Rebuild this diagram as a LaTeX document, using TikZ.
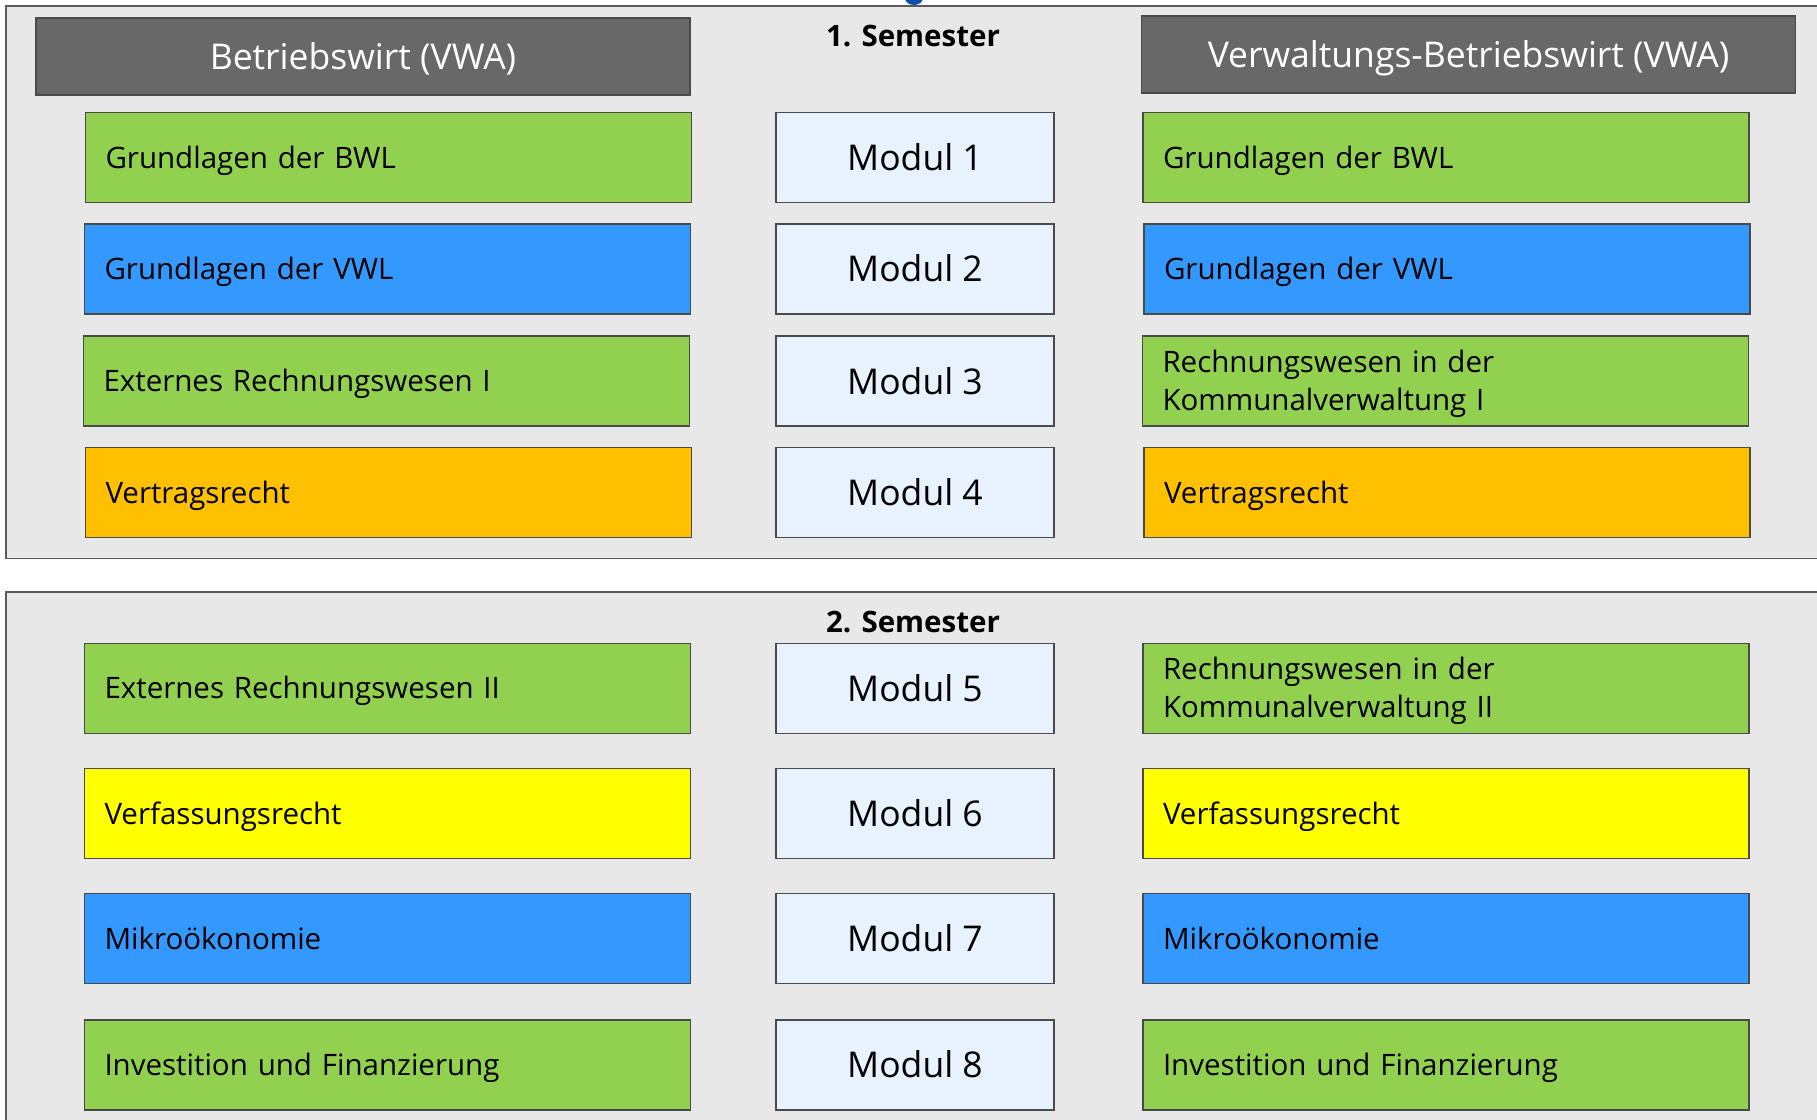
\documentclass[tikz,border=0pt]{standalone}
\usepackage{fontspec}
\setmainfont{Open Sans}
\definecolor{panelbg}{HTML}{E8E8E8}
\definecolor{panelline}{HTML}{5A5A5A}
\definecolor{boxline}{HTML}{4A4A4A}
\definecolor{hdrfill}{HTML}{686868}
\definecolor{cgreen}{HTML}{92D050}
\definecolor{cblue}{HTML}{3399FF}
\definecolor{corange}{HTML}{FFC000}
\definecolor{cyellow}{HTML}{FFFF00}
\definecolor{modfill}{HTML}{E7F2FE}
\definecolor{topblue}{HTML}{0B4FA8}
\tikzset{
  panel/.style={draw=panelline, line width=1.8pt, fill=panelbg},
  hdr/.style={draw=boxline, line width=1.8pt, fill=hdrfill, text=white, minimum width=654pt, minimum height=77pt, font=\fontsize{35.5}{42}\selectfont, text height=28.4pt, text depth=2.8pt},
  subj/.style={draw=boxline, line width=1.6pt, minimum height=90pt, text width=566pt, inner xsep=20pt, align=left, font=\fontsize{29.5}{38}\selectfont, text height=23.6pt, text depth=2.4pt},
  subjtwo/.style={subj, text depth=40.4pt},
  modbox/.style={draw=boxline, line width=1.6pt, fill=modfill, minimum width=278pt, minimum height=90pt, font=\fontsize{35.5}{42}\selectfont, text height=28.4pt, text depth=2.8pt},
  semlabel/.style={font=\fontsize{29.5}{34}\selectfont\bfseries, inner sep=0pt}
}
\begin{document}
\begin{tikzpicture}[x=1pt,y=-1pt]
\useasboundingbox (0,0) rectangle (1817,1119);
\clip (0,0) rectangle (1817,1119);
% panels
\draw[panel] (6,6) rectangle (1830,558.5);
\draw[panel] (6,592) rectangle (1830,1135);
\fill[topblue] (914,-2) ellipse (9pt and 7pt);
% headers and semester labels
\node[hdr] (hl) at (363,56.7) {Betriebswirt (VWA)};
\node[hdr] (hr) at (1468.5,54.5) {Verwaltungs-Betriebswirt (VWA)};
\node[semlabel] (s1) at (913,36) {1. Semester};
\node[semlabel] (s2) at (913,622) {2. Semester};
% semester 1
\node[subj, fill=cgreen] (l1) at (388.5,157.6) {Grundlagen der BWL};
\node[subj, fill=cblue] (l2) at (387.5,268.8) {Grundlagen der VWL};
\node[subj, fill=cgreen] (l3) at (386.5,381.2) {Externes Rechnungswesen I};
\node[subj, fill=corange] (l4) at (388.5,492.5) {Vertragsrecht};
\node[modbox] (m1) at (915,157.6) {Modul 1};
\node[modbox] (m2) at (915,268.8) {Modul 2};
\node[modbox] (m3) at (915,381.2) {Modul 3};
\node[modbox] (m4) at (915,492.5) {Modul 4};
\node[subj, fill=cgreen] (r1) at (1446,157.6) {Grundlagen der BWL};
\node[subj, fill=cblue] (r2) at (1447,268.8) {Grundlagen der VWL};
\node[subjtwo, fill=cgreen] (r3) at (1445.5,381.2) {Rechnungswesen in der\\Kommunalverwaltung I};
\node[subj, fill=corange] (r4) at (1447,492.5) {Vertragsrecht};
% semester 2
\node[subj, fill=cgreen] (l5) at (387.5,688.3) {Externes Rechnungswesen II};
\node[subj, fill=cyellow] (l6) at (387.5,813.5) {Verfassungsrecht};
\node[subj, fill=cblue] (l7) at (387.5,938.6) {Mikroökonomie};
\node[subj, fill=cgreen] (l8) at (387.5,1065) {Investition und Finanzierung};
\node[modbox] (m5) at (915,688.3) {Modul 5};
\node[modbox] (m6) at (915,813.5) {Modul 6};
\node[modbox] (m7) at (915,938.6) {Modul 7};
\node[modbox] (m8) at (915,1065) {Modul 8};
\node[subjtwo, fill=cgreen] (r5) at (1446,688.3) {Rechnungswesen in der\\Kommunalverwaltung II};
\node[subj, fill=cyellow] (r6) at (1446,813.5) {Verfassungsrecht};
\node[subj, fill=cblue] (r7) at (1446,938.6) {Mikroökonomie};
\node[subj, fill=cgreen] (r8) at (1446,1065) {Investition und Finanzierung};
\end{tikzpicture}
\end{document}
